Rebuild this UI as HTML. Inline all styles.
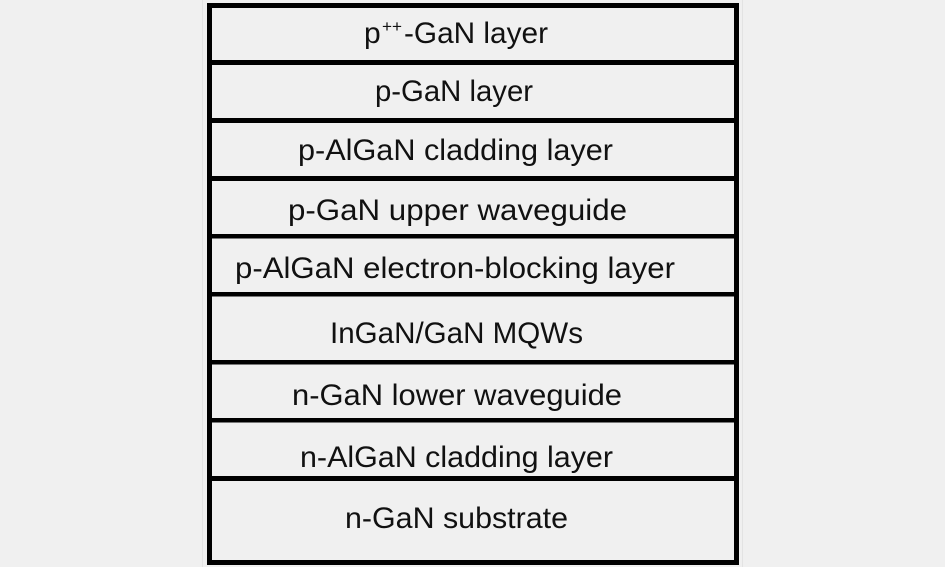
<!DOCTYPE html>
<html>
<head>
<meta charset="utf-8">
<style>
  html, body { margin: 0; padding: 0; background: #f0f0f0; }
  body { width: 945px; height: 567px; overflow: hidden; }
  svg { display: block; }
  text { font-family: "Liberation Sans", Arial, sans-serif; font-size: 30px; fill: #111; }
</style>
</head>
<body>
<svg width="945" height="567" viewBox="0 0 945 567" xmlns="http://www.w3.org/2000/svg">
  <rect x="0" y="0" width="945" height="567" fill="#f0f0f0"/>
  <!-- faint outer guide lines -->
  <rect x="202" y="0" width="1" height="567" fill="#e3e3e3"/>
  <rect x="742" y="0" width="1" height="567" fill="#e3e3e3"/>

  <!-- borders -->
  <rect x="207" y="3" width="5" height="562" fill="#000"/>
  <rect x="734" y="3" width="5" height="562" fill="#000"/>
  <rect x="207" y="3" width="532" height="5" fill="#000"/>
  <rect x="207" y="560" width="532" height="5" fill="#000"/>

  <!-- dividers -->
  <rect x="207" y="60" width="532" height="5" fill="#000"/>
  <rect x="207" y="118" width="532" height="5" fill="#000"/>
  <rect x="207" y="176" width="532" height="5" fill="#000"/>
  <rect x="207" y="234" width="532" height="4.5" fill="#000"/>
  <rect x="207" y="292" width="532" height="4.5" fill="#000"/>
  <rect x="207" y="360" width="532" height="4.5" fill="#000"/>
  <rect x="207" y="418" width="532" height="4.5" fill="#000"/>
  <rect x="207" y="476" width="532" height="5" fill="#000"/>

  <!-- labels -->
  <text x="364" y="43">p</text>
  <text x="382" y="32" style="font-size:17px" textLength="20" lengthAdjust="spacingAndGlyphs">++</text>
  <text x="404" y="43" textLength="144" lengthAdjust="spacingAndGlyphs">-GaN layer</text>

  <text x="375" y="101" textLength="158" lengthAdjust="spacingAndGlyphs">p-GaN layer</text>
  <text x="298" y="160" textLength="315" lengthAdjust="spacingAndGlyphs">p-AlGaN cladding layer</text>
  <text x="288" y="220" textLength="339" lengthAdjust="spacingAndGlyphs">p-GaN upper waveguide</text>
  <text x="235" y="278" textLength="440" lengthAdjust="spacingAndGlyphs">p-AlGaN electron-blocking layer</text>
  <text x="330" y="343" textLength="253" lengthAdjust="spacingAndGlyphs">InGaN/GaN MQWs</text>
  <text x="292" y="405" textLength="330" lengthAdjust="spacingAndGlyphs">n-GaN lower waveguide</text>
  <text x="300" y="467" textLength="313" lengthAdjust="spacingAndGlyphs">n-AlGaN cladding layer</text>
  <text x="345" y="528" textLength="223" lengthAdjust="spacingAndGlyphs">n-GaN substrate</text>
</svg>
</body>
</html>
